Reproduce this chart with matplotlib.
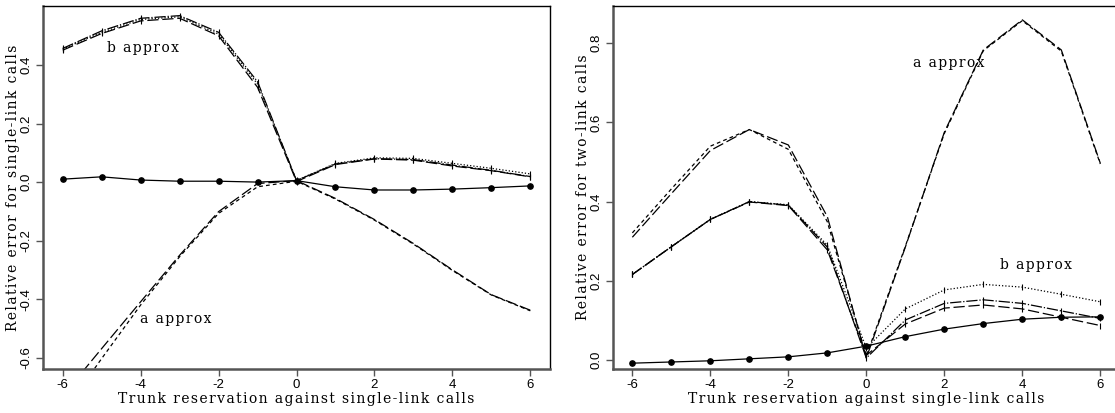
import matplotlib
matplotlib.use("Agg")
import matplotlib.pyplot as plt

# ---- data ----
x = [-6, -5, -4, -3, -2, -1, 0, 1, 2, 3, 4, 5, 6]
xticks = [-6, -4, -2, 0, 2, 4, 6]

# single-link calls (left panel)
single_exact = [0.010, 0.018, 0.007, 0.003, 0.003, 0.000, 0.005, -0.016, -0.027, -0.027, -0.024, -0.019, -0.013]
single_a_long = [-0.73, -0.569, -0.409, -0.250, -0.101, -0.005, 0.005, -0.056, -0.128, -0.210, -0.300, -0.385, -0.438]
single_a_short = [-0.79, -0.603, -0.420, -0.255, -0.107, -0.016, 0.003, -0.058, -0.130, -0.212, -0.302, -0.386, -0.440]
single_b_dot = [0.455, 0.512, 0.556, 0.565, 0.506, 0.335, 0.006, 0.064, 0.083, 0.081, 0.064, 0.047, 0.028]
single_b_dashdot = [0.457, 0.517, 0.560, 0.569, 0.512, 0.343, 0.005, 0.062, 0.080, 0.077, 0.058, 0.040, 0.019]
single_b_long = [0.451, 0.508, 0.551, 0.560, 0.500, 0.324, 0.002, 0.060, 0.079, 0.075, 0.055, 0.039, 0.018]
single_yticks = [-0.6, -0.4, -0.2, 0.0, 0.2, 0.4]

# two-link calls (right panel)
two_exact = [-0.008, -0.005, -0.002, 0.003, 0.008, 0.018, 0.035, 0.059, 0.078, 0.092, 0.103, 0.108, 0.109]
two_a_long = [0.310, 0.420, 0.529, 0.582, 0.543, 0.362, 0.005, 0.285, 0.575, 0.783, 0.859, 0.783, 0.497]
two_a_short = [0.321, 0.432, 0.540, 0.582, 0.532, 0.349, 0.010, 0.287, 0.572, 0.781, 0.857, 0.780, 0.495]
two_b_dot = [0.216, 0.286, 0.355, 0.400, 0.392, 0.290, 0.030, 0.129, 0.177, 0.191, 0.184, 0.166, 0.147]
two_b_dashdot = [0.216, 0.286, 0.355, 0.400, 0.391, 0.285, 0.005, 0.101, 0.143, 0.152, 0.143, 0.124, 0.105]
two_b_long = [0.216, 0.286, 0.355, 0.399, 0.390, 0.278, 0.012, 0.091, 0.131, 0.139, 0.129, 0.108, 0.087]
two_yticks = [0.0, 0.2, 0.4, 0.6, 0.8]

xlabel = "Trunk reservation against single-link calls"
ylabel_single = "Relative error for single-link calls"
ylabel_two = "Relative error for two-link calls"

SERIF = ["DejaVu Serif", "DejaVu Sans"]
SANS = "Liberation Sans"
LABEL_FS = 10
TICK_FS = 9.5


def spaced(s):
    # widen letter spacing with hair spaces, like the original typesetting
    return "\u200a".join(s)


fig = plt.figure(figsize=(11.15, 4.13), dpi=100)
ax1 = fig.add_axes([0.0388, 0.1058, 0.4543, 0.8797])
ax2 = fig.add_axes([0.5500, 0.1058, 0.4543, 0.8797])

LW = 0.9
long_dash = (0, (9, 3))
short_dash = (0, (3, 2.5))
dot = (0, (1, 1.6))
dashdot = (0, (9, 1.5, 1, 1.5))


def draw(ax, exact, a_long, a_short, b_dot, b_dd, b_long):
    ax.plot(x, a_long, color="black", lw=LW, linestyle=long_dash)
    ax.plot(x, a_short, color="black", lw=LW, linestyle=short_dash)
    ax.plot(x, b_dot, color="black", lw=LW, linestyle=dot, marker="|", ms=5, mew=0.8)
    ax.plot(x, b_dd, color="black", lw=LW, linestyle=dashdot, marker="|", ms=5, mew=0.8)
    ax.plot(x, b_long, color="black", lw=LW, linestyle=long_dash, marker="|", ms=5, mew=0.8)
    ax.plot(x, exact, color="black", lw=LW, linestyle="-", marker="o", ms=3.8)


draw(ax1, single_exact, single_a_long, single_a_short, single_b_dot, single_b_dashdot, single_b_long)
draw(ax2, two_exact, two_a_long, two_a_short, two_b_dot, two_b_dashdot, two_b_long)

ax1.set_xlim(-6.5, 6.5)
ax1.set_ylim(-0.640, 0.602)
ax2.set_xlim(-6.49, 6.5)
ax2.set_ylim(-0.0235, 0.894)

for ax, yt, yl in ((ax1, single_yticks, ylabel_single), (ax2, two_yticks, ylabel_two)):
    ax.set_xticks(xticks)
    ax.set_xticklabels([str(v) for v in xticks], fontfamily=SANS, fontsize=TICK_FS)
    ax.set_yticks(yt)
    ax.set_yticklabels([f"{v:.1f}" for v in yt], fontfamily=SANS, fontsize=TICK_FS,
                       rotation=90, va="center")
    ax.tick_params(axis="both", direction="out", length=5, width=1.0, color="#555555")
    ax.tick_params(axis="x", pad=2)
    ax.tick_params(axis="y", pad=3)
    ax.spines["left"].set_linewidth(1.8)
    ax.spines["left"].set_color("#555555")
    ax.spines["bottom"].set_linewidth(1.8)
    ax.spines["bottom"].set_color("#555555")
    ax.spines["top"].set_linewidth(1.0)
    ax.spines["right"].set_linewidth(1.0)
    ax.set_xlabel(spaced(xlabel), fontfamily=SERIF, fontsize=LABEL_FS, labelpad=1)
    ax.set_ylabel(spaced(yl), fontfamily=SERIF, fontsize=LABEL_FS)
    ax.yaxis.set_label_coords(-0.045, 0.5)

ax1.text(-4.86, 0.457, spaced("b approx"), fontfamily=SERIF, fontsize=LABEL_FS, va="center", ha="left")
ax1.text(-4.01, -0.468, spaced("a approx"), fontfamily=SERIF, fontsize=LABEL_FS, va="center", ha="left")
ax2.text(1.2, 0.749, spaced("a approx"), fontfamily=SERIF, fontsize=LABEL_FS, va="center", ha="left")
ax2.text(3.43, 0.240, spaced("b approx"), fontfamily=SERIF, fontsize=LABEL_FS, va="center", ha="left")

fig.savefig("out.png", dpi=100)
